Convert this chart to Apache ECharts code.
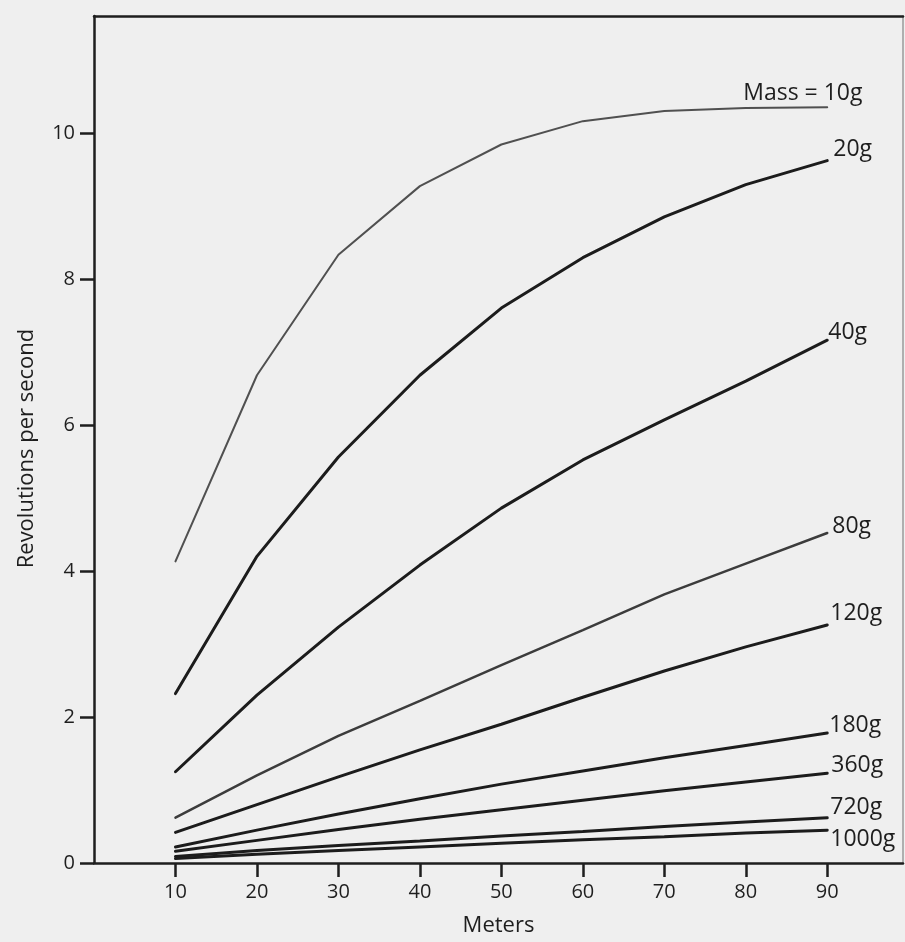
<!DOCTYPE html>
<html>
<head>
<meta charset="utf-8">
<script src="https://cdn.jsdelivr.net/npm/echarts@6/dist/echarts.min.js"></script>
<style>
  html, body { margin: 0; padding: 0; background: #efefef; }
  #chart { width: 905px; height: 942px; }
</style>
</head>
<body>
<div id="chart"></div>
<script>
var meters = [10, 20, 30, 40, 50, 60, 70, 80, 90];
var xTicks = [10, 20, 30, 40, 50, 60, 70, 80, 90];
var yTicks = [0, 2, 4, 6, 8, 10];

var mass10 = [4.13, 6.68, 8.33, 9.27, 9.84, 10.16, 10.30, 10.34, 10.35];
var mass20 = [2.32, 4.20, 5.56, 6.68, 7.60, 8.29, 8.85, 9.29, 9.62];
var mass40 = [1.25, 2.30, 3.23, 4.08, 4.86, 5.52, 6.07, 6.60, 7.16];
var mass80 = [0.62, 1.20, 1.74, 2.22, 2.71, 3.19, 3.68, 4.10, 4.52];
var mass120 = [0.42, 0.80, 1.18, 1.55, 1.90, 2.27, 2.63, 2.96, 3.26];
var mass180 = [0.22, 0.45, 0.67, 0.88, 1.08, 1.26, 1.44, 1.61, 1.78];
var mass360 = [0.16, 0.31, 0.46, 0.60, 0.73, 0.86, 0.99, 1.11, 1.23];
var mass720 = [0.09, 0.17, 0.24, 0.30, 0.37, 0.43, 0.50, 0.56, 0.62];
var mass1000 = [0.06, 0.12, 0.17, 0.22, 0.27, 0.32, 0.36, 0.41, 0.45];

var labels = ['Mass = 10g', '20g', '40g', '80g', '120g', '180g', '360g', '720g', '1000g'];

var FONT = '"Open Sans", "Noto Sans", sans-serif';
var ink = '#1e1e1e';
var yTop = 11.6;

function pairs(vals) {
    var out = [];
    for (var i = 0; i < meters.length; i++) {
        out.push([meters[i], vals[i]]);
    }
    return out;
}

function curve(name, vals, color, width, offset) {
    return {
        name: name,
        type: 'line',
        data: pairs(vals),
        symbol: 'none',
        smooth: false,
        lineStyle: { color: color, width: width, cap: 'round' },
        endLabel: {
            show: true,
            formatter: name,
            distance: 0,
            offset: offset,
            color: ink,
            fontFamily: FONT,
            fontSize: 23
        }
    };
}

var myChart = echarts.init(document.getElementById('chart'));

var option = {
    animation: false,
    backgroundColor: '#efefef',
    grid: {
        left: 94, top: 16, width: 809, height: 847,
        containLabel: false,
        outerBoundsMode: 'none'
    },
    xAxis: [
        {
            type: 'value',
            min: 0,
            max: 99.3,
            position: 'bottom',
            splitLine: { show: false },
            axisLine: { show: true, lineStyle: { color: ink, width: 2.5 } },
            axisTick: { show: true, customValues: xTicks, length: 14, lineStyle: { color: ink, width: 2.5 } },
            axisLabel: { customValues: xTicks, color: ink, fontFamily: FONT, fontSize: 20, margin: 19 },
            name: 'Meters',
            nameLocation: 'middle',
            nameGap: 52,
            nameTextStyle: { color: ink, fontFamily: FONT, fontSize: 22 }
        },
        {
            type: 'value',
            min: 0,
            max: 99.3,
            position: 'top',
            splitLine: { show: false },
            axisLine: { show: true, onZero: false, lineStyle: { color: ink, width: 2.5 } },
            axisTick: { show: false },
            axisLabel: { show: false }
        }
    ],
    yAxis: [
        {
            type: 'value',
            min: 0,
            max: yTop,
            splitLine: { show: false },
            axisLine: { show: true, lineStyle: { color: ink, width: 2.5 } },
            axisTick: { show: true, customValues: yTicks, length: 14, lineStyle: { color: ink, width: 2.5 } },
            axisLabel: { customValues: yTicks, color: ink, fontFamily: FONT, fontSize: 20, margin: 19 },
            name: 'Revolutions per second',
            nameLocation: 'middle',
            nameRotate: 90,
            nameGap: 56,
            nameTextStyle: { color: ink, fontFamily: FONT, fontSize: 22, padding: [0, 18, 0, 0] }
        },
        {
            type: 'value',
            min: 0,
            max: yTop,
            position: 'right',
            splitLine: { show: false },
            axisLine: { show: true, onZero: false, lineStyle: { color: '#9a9a9a', width: 1.5 } },
            axisTick: { show: false },
            axisLabel: { show: false }
        }
    ],
    series: [
        curve(labels[0], mass10, '#505050', 2, [-84, -14]),
        curve(labels[1], mass20, '#1c1c1c', 3, [6, -11]),
        curve(labels[2], mass40, '#1c1c1c', 3, [1, -8]),
        curve(labels[3], mass80, '#3c3c3c', 2.5, [5, -7]),
        curve(labels[4], mass120, '#1c1c1c', 3, [3, -12]),
        curve(labels[5], mass180, '#1c1c1c', 3, [2, -8]),
        curve(labels[6], mass360, '#1c1c1c', 3, [4, -8]),
        curve(labels[7], mass720, '#1c1c1c', 3, [3, -10]),
        curve(labels[8], mass1000, '#1c1c1c', 3, [3, 9])
    ]
};

if (option && typeof option === "object") {
    myChart.setOption(option, true);
}
</script>
</body>
</html>
